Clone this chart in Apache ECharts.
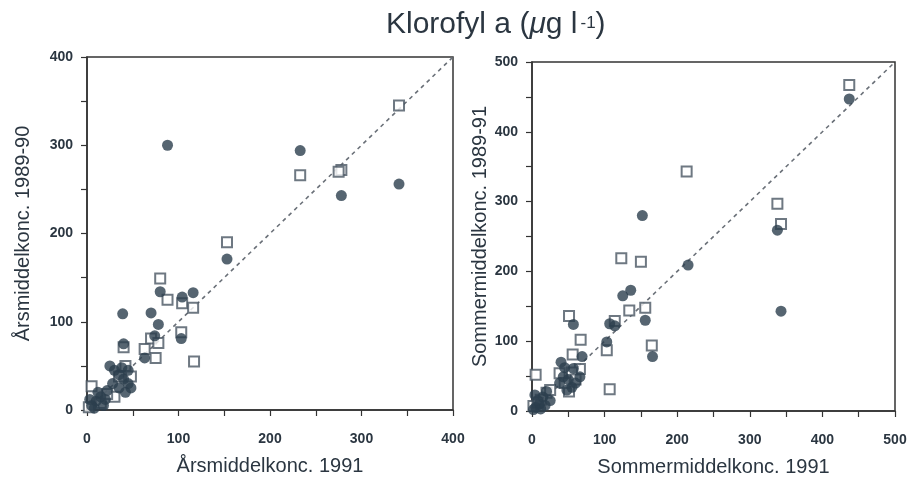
<!DOCTYPE html>
<html>
<head>
<meta charset="utf-8">
<script src="https://cdn.jsdelivr.net/npm/echarts@6/dist/echarts.min.js"></script>
<style>html,body{margin:0;padding:0;background:#fff}#c{width:923px;height:482px}</style>
</head>
<body>
<div id="c"></div>
<script>
// Left panel: Årsmiddelkonc. 1991 (x) vs 1989-90 (y)
const leftCircles = [
  [88,300],[233,294],[278,243],[341,256],[153,171],[80,134],[116,133],[104,128],
  [39,109],[70,110],[78,97],[74,84],[103,81],[40,75],[63,59],
  [25,50],[30,45],[35,40],[40,35],[45,30],[38,48],[42,20],[35,25],[28,30],[45,45],
  [22,22],[48,25],[10,10],[5,5],[15,15],[8,2],[18,5],[3,12],[12,20],[20,12]
];
const leftSquares = [
  [341,345],[278,272],[275,270],[233,266],[153,190],[80,149],[88,125],[104,121],[116,116],
  [103,88],[70,81],[78,76],[40,71],[63,69],[75,59],[117,55],
  [5,27],[30,15],[42,50],[35,38],[2,3],[15,8],[48,38],[22,18]
];
// Right panel: Sommermiddelkonc. 1991 (x) vs 1989-91 (y)
const rightCircles = [
  [437,447],[152,280],[338,259],[215,209],[343,143],[136,173],[125,165],[156,130],
  [166,78],[57,124],[107,125],[114,122],[103,99],[69,78],[40,70],[57,61],[66,49],
  [38,40],[55,34],[43,49],[45,62],[50,45],[60,40],[48,30],
  [4,23],[20,28],[15,20],[10,10],[5,5],[25,15],[2,2],[12,3],[8,15],[18,8]
];
const rightSquares = [
  [437,467],[213,343],[338,297],[343,268],[123,219],[150,214],[134,144],[156,148],
  [51,136],[114,129],[67,102],[165,94],[103,87],[56,81],[66,60],[38,54],[51,28],
  [107,31],[5,52],[45,40],[55,55],[60,45],
  [20,26],[12,16],[2,7],[25,30],[8,12]
];
const leftMax = 400, rightMax = 500;
const leftTicks = [0,100,200,300,400];
const rightTicks = [0,100,200,300,400,500];

const ink = '#2b3641';
const tickFont = {fontFamily:'Liberation Sans Narrow, Liberation Sans, Arial', fontWeight:'bold', fontSize:14, color:ink};
const nameFont = {fontFamily:'Liberation Sans, Arial', fontSize:20, color:ink};

function makeAxis(gi, max, ticks, name, gap, margin){
  return {
    type:'value', gridIndex:gi, min:0, max:max, interval:50,
    name:name, nameLocation:'middle', nameGap:gap, nameTextStyle:nameFont,
    axisLine:{show:true, lineStyle:{color:'#333', width:1.5}},
    axisTick:{show:true, length:6, lineStyle:{color:'#333', width:1.2}},
    axisLabel:Object.assign({margin:margin, formatter:v => ticks.indexOf(v) >= 0 ? String(v) : ''}, tickFont),
    splitLine:{show:false}
  };
}

const circleStyle = {color:'#2c3e4e'};
const squareStyle = {color:'#fff', borderColor:'#4a5663', borderWidth:2};

const chart = echarts.init(document.getElementById('c'));
chart.setOption({
  animation:false,
  title:{
    left:381, top:5,
    text:'{a|Klorofyl a (}{mu|μ}{a|g l}{sup|-1}{a|)}',
    textStyle:{fontWeight:'normal', rich:{
      a:{fontFamily:'Liberation Sans, Arial', fontSize:30, fontWeight:'normal', color:ink},
      mu:{fontFamily:'Liberation Sans, Arial', fontSize:30, fontWeight:'normal', fontStyle:'italic', color:ink},
      sup:{fontFamily:'Liberation Sans, Arial', fontSize:17, fontWeight:'normal', color:ink, padding:[0,0,4,3]}
    }}
  },
  grid:[
    {left:87, top:57, width:366, height:353, show:true, borderColor:'#333', borderWidth:1.5},
    {left:532, top:62, width:363, height:351, show:true, borderColor:'#333', borderWidth:1.5}
  ],
  xAxis:[
    makeAxis(0, leftMax, leftTicks, 'Årsmiddelkonc. 1991', 46, 22),
    makeAxis(1, rightMax, rightTicks, 'Sommermiddelkonc. 1991', 46, 22)
  ],
  yAxis:[
    makeAxis(0, leftMax, leftTicks, 'Årsmiddelkonc. 1989-90', 54, 14),
    makeAxis(1, rightMax, rightTicks, 'Sommermiddelkonc. 1989-91', 38, 14)
  ],
  series:[
    {type:'line', xAxisIndex:0, yAxisIndex:0, data:[[0,0],[leftMax,leftMax]], symbol:'none',
     lineStyle:{color:'#6a7078', width:1.6, type:[4,4]}, z:1},
    {type:'line', xAxisIndex:1, yAxisIndex:1, data:[[0,0],[rightMax,rightMax]], symbol:'none',
     lineStyle:{color:'#6a7078', width:1.6, type:[4,4]}, z:1},
    {type:'scatter', xAxisIndex:0, yAxisIndex:0, data:leftSquares, symbol:'rect', symbolSize:10, itemStyle:squareStyle, z:3},
    {type:'scatter', xAxisIndex:0, yAxisIndex:0, data:leftCircles, symbol:'circle', symbolSize:11, itemStyle:circleStyle, z:4},
    {type:'scatter', xAxisIndex:1, yAxisIndex:1, data:rightSquares, symbol:'rect', symbolSize:10, itemStyle:squareStyle, z:3},
    {type:'scatter', xAxisIndex:1, yAxisIndex:1, data:rightCircles, symbol:'circle', symbolSize:11, itemStyle:circleStyle, z:4}
  ]
});
</script>
</body>
</html>
